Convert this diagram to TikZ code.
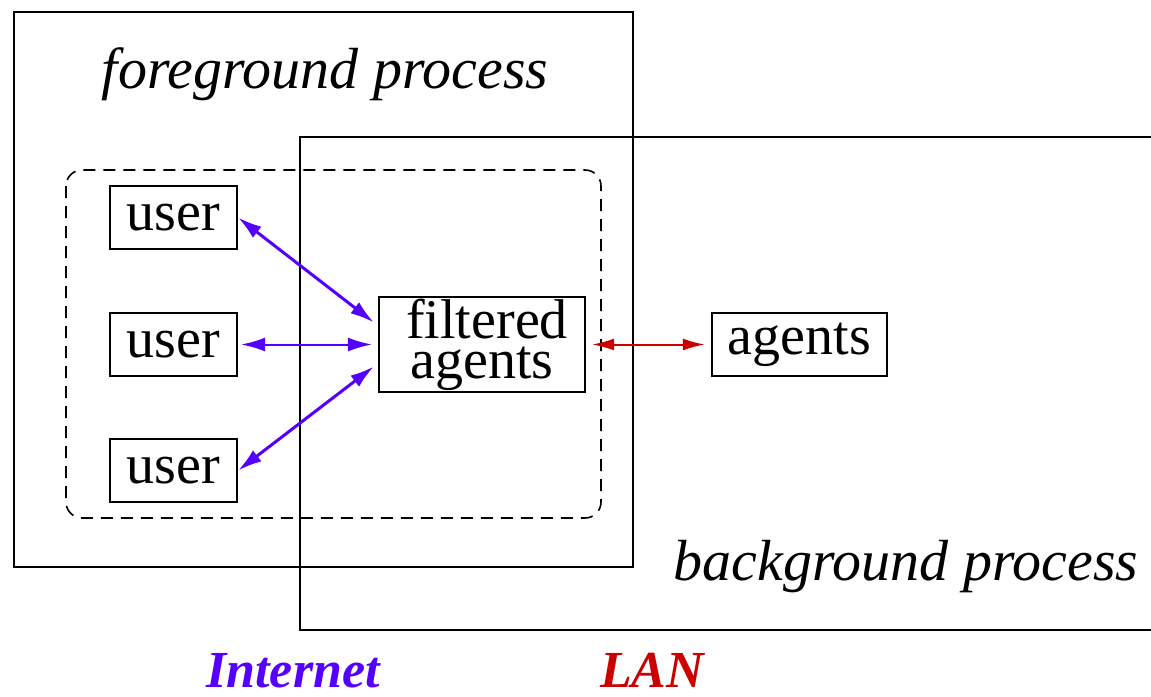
\documentclass[tikz,border=0pt]{standalone}
\usepackage{fontspec}
\setmainfont{Liberation Serif}
\usetikzlibrary{arrows.meta,calc}
\definecolor{netblue}{HTML}{5500FF}
\definecolor{lanred}{HTML}{CC0000}
\begin{document}
\begin{tikzpicture}[x=1pt,y=-1pt,
  box/.style={draw,line width=2.2pt,inner sep=0pt,font=\fontsize{56}{40}\selectfont},
  frame/.style={draw,line width=2.2pt},
  lbl/.style={inner sep=0pt,font=\fontsize{58}{60}\selectfont\itshape},
  netarrow/.style={draw=netblue,line width=3pt,{Latex[length=24pt,width=14pt]}-{Latex[length=24pt,width=14pt]}},
  lanarrow/.style={draw=lanred,line width=2pt,{Latex[length=22pt,width=12pt]}-{Latex[length=22pt,width=12pt]}},
  foot/.style={inner sep=0pt,font=\fontsize{52}{52}\selectfont\bfseries\itshape}]
\useasboundingbox (0,0) rectangle (1151,696);
% process frames
\draw[frame] (14,12) rectangle (633,567);
\draw[frame] (1170,137) -- (300,137) -- (300,630) -- (1170,630);
\draw[line width=1.6pt,dash pattern=on 12pt off 8pt,rounded corners=16pt] (66,170) rectangle (601,518);
% labels
\node[lbl,anchor=base] (fg) at (325,88) {foreground process};
\node[lbl,anchor=base] (bg) at (906,580) {background process};
% nodes
\node[box,minimum width=127pt,minimum height=63pt] (u1) at (173.5,217.5) {user};
\node[box,minimum width=127pt,minimum height=63pt] (u2) at (173.5,344.5) {user};
\node[box,minimum width=127pt,minimum height=63pt] (u3) at (173.5,470.5) {user};
\node[box,minimum width=206pt,minimum height=95pt,align=center] (fa) at (482,344.5) {\hspace*{10pt}filtered\\agents};
\node[box,minimum width=175pt,minimum height=63pt] (ag) at (799.5,344.5) {agents};
% connectors
\draw[netarrow] (u1.east) -- ([xshift=-4pt,yshift=22pt]fa.west);
\draw[netarrow,line width=2pt] ([xshift=3pt]u2.east) -- ([xshift=-6pt]fa.west);
\draw[netarrow] (u3.east) -- ([xshift=-4pt,yshift=-22pt]fa.west);
\draw[lanarrow] ([xshift=6pt]fa.east) -- ([xshift=-6pt]ag.west);
% footer
\node[foot,text=netblue,anchor=base] (inet) at (293,687) {Internet};
\node[foot,text=lanred,anchor=base] (lan) at (652,687) {LAN};
\end{tikzpicture}
\end{document}
